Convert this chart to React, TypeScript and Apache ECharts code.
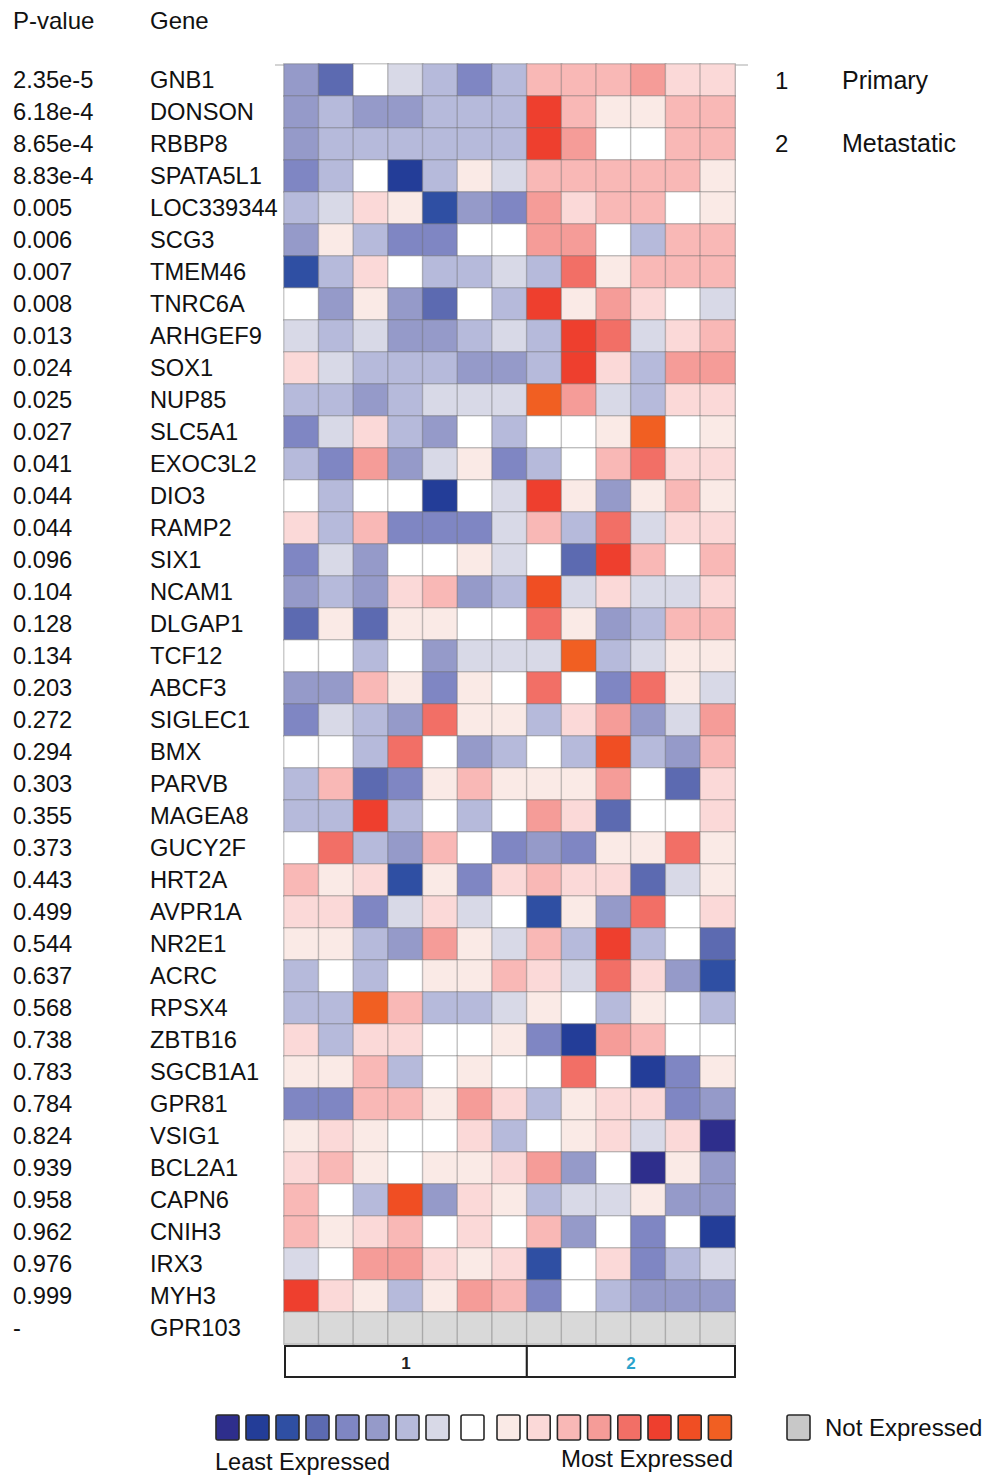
import React, { useEffect, useRef } from "react";
import * as echarts from "echarts";

const genes = [
  "GNB1", "DONSON", "RBBP8", "SPATA5L1", "LOC339344", "SCG3", "TMEM46", "TNRC6A",
  "ARHGEF9", "SOX1", "NUP85", "SLC5A1", "EXOC3L2", "DIO3", "RAMP2", "SIX1",
  "NCAM1", "DLGAP1", "TCF12", "ABCF3", "SIGLEC1", "BMX", "PARVB", "MAGEA8",
  "GUCY2F", "HRT2A", "AVPR1A", "NR2E1", "ACRC", "RPSX4", "ZBTB16", "SGCB1A1",
  "GPR81", "VSIG1", "BCL2A1", "CAPN6", "CNIH3", "IRX3", "MYH3", "GPR103",
];

const pValues = [
  "2.35e-5", "6.18e-4", "8.65e-4", "8.83e-4", "0.005", "0.006", "0.007", "0.008",
  "0.013", "0.024", "0.025", "0.027", "0.041", "0.044", "0.044", "0.096",
  "0.104", "0.128", "0.134", "0.203", "0.272", "0.294", "0.303", "0.355",
  "0.373", "0.443", "0.499", "0.544", "0.637", "0.568", "0.738", "0.783",
  "0.784", "0.824", "0.939", "0.958", "0.962", "0.976", "0.999", "-",
];

// 7 primary samples (group 1), 6 metastatic samples (group 2)
const samples = ["P1", "P2", "P3", "P4", "P5", "P6", "P7", "M1", "M2", "M3", "M4", "M5", "M6"];
const groups = [
  { label: "1", name: "Primary", count: 7, color: "#222222" },
  { label: "2", name: "Metastatic", count: 6, color: "#2aa3cc" },
];

// Expression level per cell: -8 (least) .. 0 (white) .. 8 (most); null = not expressed
const expression: (number[] | null)[] = [
  [-3, -5, 0, -1, -2, -4, -2, 3, 3, 3, 4, 2, 2],
  [-3, -2, -3, -3, -2, -2, -2, 6, 3, 1, 1, 3, 3],
  [-3, -2, -2, -2, -2, -2, -2, 6, 4, 0, 0, 3, 3],
  [-4, -2, 0, -7, -2, 1, -1, 3, 3, 3, 3, 3, 1],
  [-2, -1, 2, 1, -6, -3, -4, 4, 2, 3, 3, 0, 1],
  [-3, 1, -2, -4, -4, 0, 0, 4, 4, 0, -2, 3, 3],
  [-6, -2, 2, 0, -2, -2, -1, -2, 5, 1, 3, 3, 3],
  [0, -3, 1, -3, -5, 0, -2, 6, 1, 4, 2, 0, -1],
  [-1, -2, -1, -3, -3, -2, -1, -2, 6, 5, -1, 2, 3],
  [2, -1, -2, -2, -2, -3, -3, -2, 6, 2, -2, 4, 4],
  [-2, -2, -3, -2, -1, -1, -1, 8, 4, -1, -2, 2, 2],
  [-4, -1, 2, -2, -3, 0, -2, 0, 0, 1, 8, 0, 1],
  [-2, -4, 4, -3, -1, 1, -4, -2, 0, 3, 5, 2, 2],
  [0, -2, 0, 0, -7, 0, -1, 6, 1, -3, 1, 3, 1],
  [2, -2, 3, -4, -4, -4, -1, 3, -2, 5, -1, 2, 2],
  [-4, -1, -3, 0, 0, 1, -1, 0, -5, 6, 3, 0, 3],
  [-3, -2, -3, 2, 3, -3, -2, 7, -1, 2, -1, -1, 2],
  [-5, 1, -5, 1, 1, 0, 0, 5, 1, -3, -2, 3, 3],
  [0, 0, -2, 0, -3, -1, -1, -1, 8, -2, -1, 1, 1],
  [-3, -3, 3, 1, -4, 1, 0, 5, 0, -4, 5, 1, -1],
  [-4, -1, -2, -3, 5, 1, 1, -2, 2, 4, -3, -1, 4],
  [0, 0, -2, 5, 0, -3, -2, 0, -2, 7, -2, -3, 3],
  [-2, 3, -5, -4, 1, 3, 1, 1, 1, 4, 0, -5, 2],
  [-2, -2, 6, -2, 0, -2, 0, 4, 2, -5, 0, 0, 2],
  [0, 5, -2, -3, 3, 0, -4, -3, -4, 1, 1, 5, 1],
  [3, 1, 2, -6, 1, -4, 2, 3, 2, 2, -5, -1, 1],
  [2, 2, -4, -1, 2, -1, 0, -6, 1, -3, 5, 0, 2],
  [1, 1, -2, -3, 4, 1, -1, 3, -2, 6, -2, 0, -5],
  [-2, 0, -2, 0, 1, 1, 3, 2, -1, 5, 2, -3, -6],
  [-2, -2, 8, 3, -2, -2, -1, 1, 0, -2, 1, 0, -2],
  [2, -2, 2, 2, 0, 0, 1, -4, -7, 4, 3, 0, 0],
  [1, 1, 3, -2, 0, 1, 0, 0, 5, 0, -7, -4, 1],
  [-4, -4, 3, 3, 1, 4, 2, -2, 1, 2, 2, -4, -3],
  [1, 2, 1, 0, 0, 2, -2, 0, 1, 2, -1, 2, -8],
  [2, 3, 1, 0, 1, 1, 2, 4, -3, 0, -8, 1, -3],
  [3, 0, -2, 7, -3, 2, 1, -2, -1, -1, 1, -3, -3],
  [3, 1, 2, 3, 0, 2, 0, 3, -3, 0, -4, 0, -7],
  [-1, 0, 4, 4, 2, 1, 2, -6, 0, 2, -4, -2, -1],
  [6, 2, 1, -2, 1, 4, 3, -4, 0, -2, -3, -3, -3],
  null,
];

const levels = [-8, -7, -6, -5, -4, -3, -2, -1, 0, 1, 2, 3, 4, 5, 6, 7, 8];
const levelColors = [
  "#2e2e8c", "#233d98", "#2f4fa3", "#5c6ab1", "#7f86c3", "#959ac9", "#b6badb", "#d8d9e7",
  "#ffffff",
  "#faeae6", "#fbd9d8", "#f9b8b6", "#f59c98", "#f26f66", "#ee3f2e", "#f04e23", "#f15f22",
];
const NOT_EXPRESSED = -99;
const notExpressedColor = "#d9d9d9";

const FONT = "'Liberation Sans', Arial, sans-serif";

export default function App() {
  const ref = useRef<HTMLDivElement>(null);

  useEffect(() => {
    if (!ref.current) return;
    const chart = echarts.init(ref.current, undefined, { renderer: "svg" });

    const gridLeft = 284;
    const gridTop = 64;
    const cellW = 451 / samples.length;
    const cellH = 32;
    const gridW = cellW * samples.length;
    const gridH = cellH * genes.length;

    const data: number[][] = [];
    expression.forEach((row, r) => {
      samples.forEach((_, c) => {
        data.push([c, r, row === null ? NOT_EXPRESSED : row[c]]);
      });
    });

    const pieces = levels.map((l, i) => ({ value: l, color: levelColors[i] }));
    pieces.push({ value: NOT_EXPRESSED, color: notExpressedColor });

    const graphics: any[] = [];
    const txt = (x: number, y: number, text: string, size: number, extra: any = {}) => ({
      type: "text",
      x,
      y,
      style: {
        text,
        fontSize: size,
        fontFamily: FONT,
        fill: "#111",
        verticalAlign: "middle",
        align: "left",
        ...extra,
      },
    });

    graphics.push(txt(13, 20, "P-value", 24));
    graphics.push(txt(150, 20, "Gene", 24));
    graphics.push(txt(775, 80, groups[0].label, 24));
    graphics.push(txt(842, 80, groups[0].name, 25));
    graphics.push(txt(775, 143, groups[1].label, 24));
    graphics.push(txt(842, 143, groups[1].name, 25));

    // top border line
    graphics.push({
      type: "line",
      shape: { x1: 275, y1: gridTop + 1, x2: 748, y2: gridTop + 1 },
      style: { stroke: "#d4d4d4", lineWidth: 2 },
    });
    // right border line
    graphics.push({
      type: "line",
      shape: { x1: gridLeft + gridW, y1: gridTop, x2: gridLeft + gridW, y2: gridTop + gridH },
      style: { stroke: "#cfcfcf", lineWidth: 1.5 },
    });

    // group boxes
    let gx = gridLeft + 1;
    const boxTop = gridTop + gridH + 2;
    groups.forEach((g, gi) => {
      const w = g.count * cellW - (gi === 0 ? 1 : 0);
      graphics.push({
        type: "rect",
        shape: { x: gx, y: boxTop, width: w, height: 31 },
        style: { fill: "#fff", stroke: "#222", lineWidth: 2 },
      });
      graphics.push(
        txt(gx + w / 2, boxTop + 17, g.label, 17, { align: "center", fill: g.color, fontWeight: "bold" })
      );
      gx += w;
    });

    // colour legend
    const legY = 1415;
    levels.forEach((l, i) => {
      let x: number;
      if (i < 8) x = 216 + i * 30;
      else if (i === 8) x = 461;
      else x = 497 + (i - 9) * 30.2;
      graphics.push({
        type: "rect",
        shape: { x, y: legY, width: 23, height: 25, r: 2 },
        style: { fill: levelColors[i], stroke: "#2a2a2a", lineWidth: 1.6 },
      });
    });
    graphics.push({
      type: "rect",
      shape: { x: 787, y: legY, width: 23, height: 25, r: 2 },
      style: { fill: "#c8c8c8", stroke: "#2a2a2a", lineWidth: 1.6 },
    });
    graphics.push(txt(825, 1427, "Not Expressed", 24));
    graphics.push(txt(215, 1462, "Least Expressed", 23.5));
    graphics.push(txt(733, 1458, "Most Expressed", 24, { align: "right" }));

    chart.setOption({
      animation: false,
      backgroundColor: "#ffffff",
      grid: { left: gridLeft, top: gridTop, width: gridW, height: gridH },
      xAxis: {
        type: "category",
        data: samples,
        axisLine: { show: false },
        axisTick: { show: false },
        axisLabel: { show: false },
        splitLine: { show: false },
      },
      yAxis: {
        type: "category",
        data: genes,
        inverse: true,
        axisLine: { show: false },
        axisTick: { show: false },
        splitLine: { show: false },
        axisLabel: {
          align: "left",
          margin: gridLeft - 13,
          formatter: (val: string, idx: number) => `{p|${pValues[idx]}}{g|${val}}`,
          rich: {
            p: { width: 137, fontSize: 23.7, fontFamily: FONT, color: "#111" },
            g: { fontSize: 23.7, fontFamily: FONT, color: "#111" },
          },
        },
      },
      visualMap: {
        type: "piecewise",
        show: false,
        dimension: 2,
        seriesIndex: 0,
        pieces,
      },
      series: [
        {
          type: "heatmap",
          data,
          itemStyle: { borderColor: "rgba(110,110,110,0.35)", borderWidth: 1.5 },
          emphasis: { disabled: true },
        },
      ],
      graphic: graphics,
    });

    return () => chart.dispose();
  }, []);

  return (
    <div
      ref={ref}
      style={{ position: "absolute", left: 0, top: 0, width: 985, height: 1475 }}
    />
  );
}
